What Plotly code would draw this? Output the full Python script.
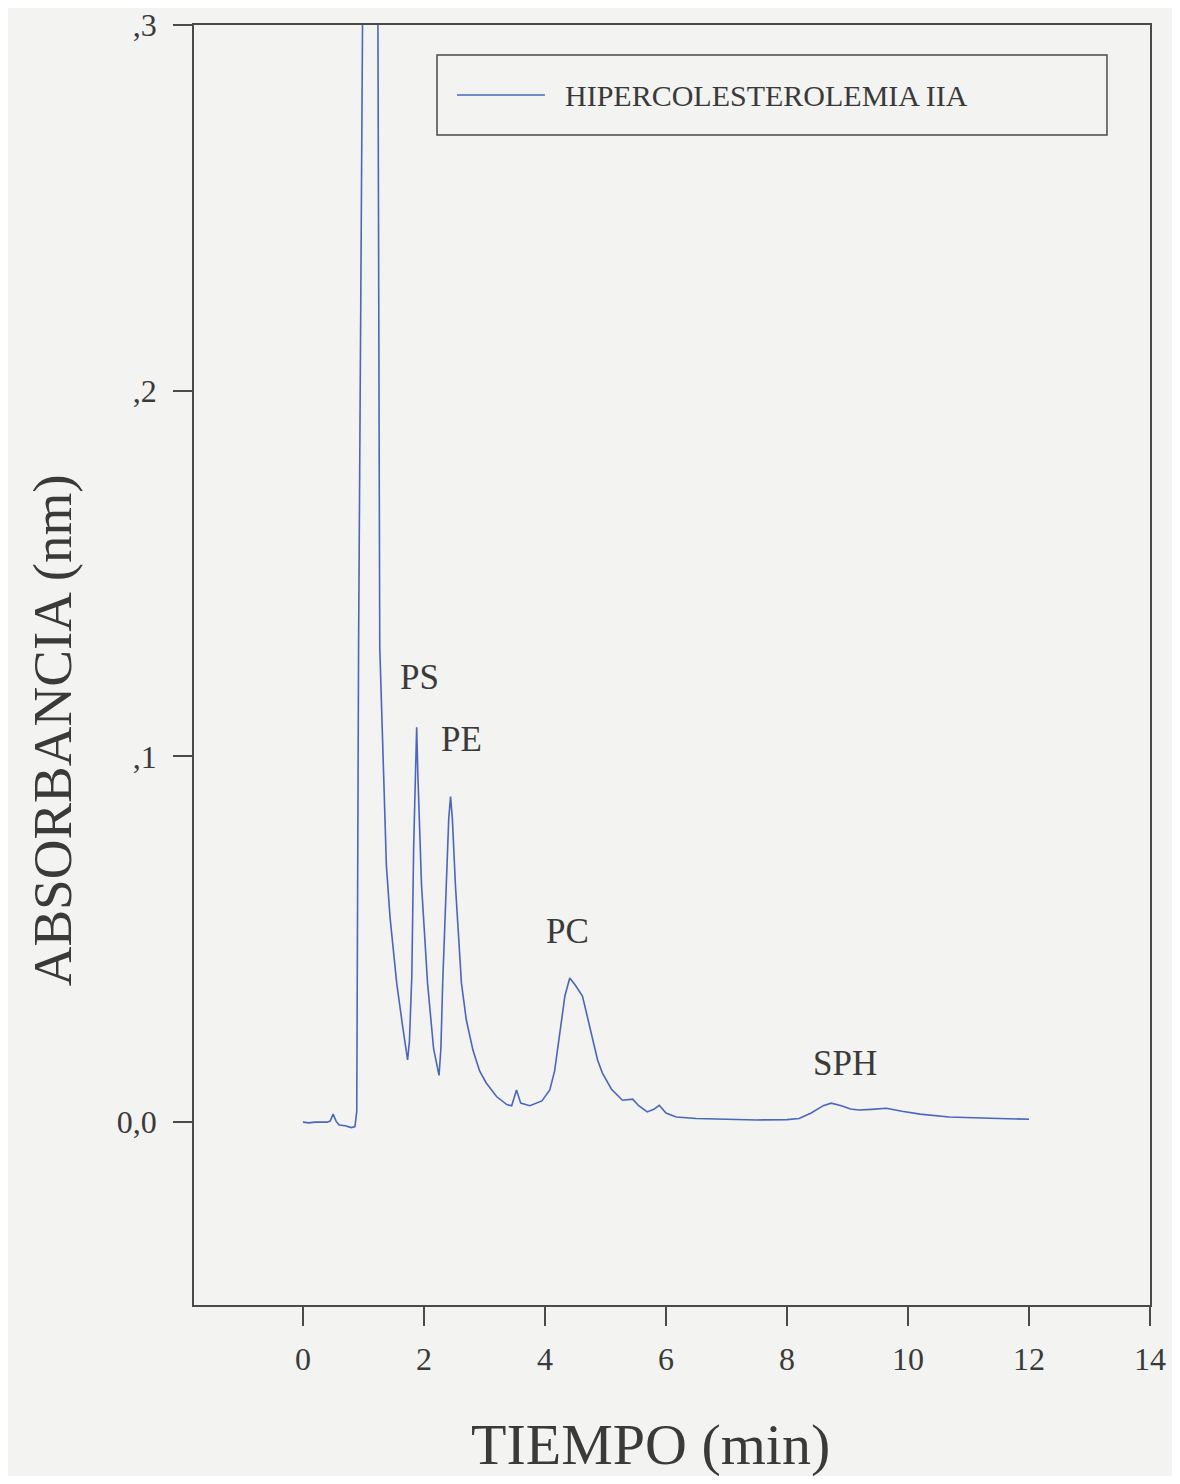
import plotly.graph_objects as go

# ---- data ----
series_name = "HIPERCOLESTEROLEMIA IIA"
tiempo = [0.00, 0.10, 0.20, 0.30, 0.40, 0.45, 0.50, 0.55, 0.60, 0.70, 0.80, 0.86,
          0.89, 0.92, 0.97, 1.03, 1.10, 1.18, 1.24, 1.27, 1.32, 1.38, 1.44, 1.55,
          1.65, 1.73, 1.76, 1.80, 1.83, 1.86, 1.88, 1.90, 1.92, 1.96, 2.06, 2.16,
          2.25, 2.28, 2.31, 2.37, 2.41, 2.44, 2.47, 2.52, 2.62, 2.70, 2.81, 2.92,
          3.03, 3.20, 3.37, 3.45, 3.53, 3.60, 3.75, 3.95, 4.08, 4.16, 4.24, 4.33,
          4.41, 4.50, 4.62, 4.70, 4.79, 4.87, 4.95, 5.10, 5.28, 5.45, 5.55, 5.69,
          5.80, 5.89, 6.00, 6.17, 6.50, 7.00, 7.50, 8.00, 8.20, 8.40, 8.60, 8.73,
          8.90, 9.05, 9.19, 9.40, 9.64, 9.90, 10.20, 10.68, 11.00, 11.50, 12.00]
absorbancia = [0.0000, -0.0002, 0.0000, -0.0001, 0.0000, 0.0003, 0.0022, 0.0002, -0.0008, -0.0010, -0.0015, -0.0012,
               0.0030, 0.1300, 0.3000, 0.5000, 0.6000, 0.5000, 0.3000, 0.1300, 0.1000, 0.0700, 0.0560, 0.0380,
               0.0260, 0.0170, 0.0220, 0.0400, 0.0750, 0.1000, 0.1080, 0.0950, 0.0850, 0.0650, 0.0380, 0.0200,
               0.0128, 0.0200, 0.0380, 0.0650, 0.0830, 0.0890, 0.0830, 0.0650, 0.0380, 0.0280, 0.0197, 0.0140,
               0.0107, 0.0070, 0.0048, 0.0045, 0.0088, 0.0052, 0.0045, 0.0058, 0.0088, 0.0140, 0.0230, 0.0345,
               0.0394, 0.0375, 0.0345, 0.0290, 0.0220, 0.0170, 0.0134, 0.0090, 0.0060, 0.0063, 0.0045, 0.0028,
               0.0035, 0.0046, 0.0025, 0.0014, 0.0010, 0.0008, 0.0006, 0.0007, 0.0010, 0.0025, 0.0045, 0.0052,
               0.0045, 0.0036, 0.0033, 0.0035, 0.0038, 0.0030, 0.0022, 0.0014, 0.0012, 0.0010, 0.0008]

peak_labels = ["PS", "PE", "PC", "SPH"]
peak_x = [1.93, 2.62, 4.37, 8.96]
peak_y = [0.1217, 0.1045, 0.052, 0.0161]

x_ticks = [0, 2, 4, 6, 8, 10, 12, 14]
y_ticks = [0.0, 0.1, 0.2, 0.3]
y_ticktext = ["0,0", ",1", ",2", ",3"]

FONT = "Liberation Serif"
TXT = "#3a3a3a"
AX = "#4a4a4a"
LINE = "#4a66bd"
BG = "#f3f3f1"

fig = go.Figure()
fig.add_trace(go.Scatter(x=tiempo, y=absorbancia, mode="lines", name=series_name,
                         line=dict(color=LINE, width=1.6), showlegend=False))

for lab, px, py in zip(peak_labels, peak_x, peak_y):
    fig.add_annotation(x=px, y=py, text=lab, showarrow=False, xref="x", yref="y",
                       font=dict(family=FONT, size=35, color=TXT))

# axis titles
fig.add_annotation(text="TIEMPO (min)", xref="paper", yref="paper", x=0.477, y=-0.109,
                   xanchor="center", yanchor="middle",
                   showarrow=False, font=dict(family=FONT, size=58, color=TXT))
fig.add_annotation(text="ABSORBANCIA (nm)", xref="paper", yref="paper", x=-0.1485, y=0.449,
                   xanchor="center", yanchor="middle",
                   textangle=-90, showarrow=False, font=dict(family=FONT, size=55, color=TXT))

# legend box (drawn manually to match the wide framed legend)
fig.add_shape(type="rect", xref="paper", yref="paper", x0=0.2542, x1=0.955, y0=0.914, y1=0.9766,
              line=dict(color=AX, width=1.5))
fig.add_shape(type="line", xref="paper", yref="paper", x0=0.2751, x1=0.3671, y0=0.9453, y1=0.9453,
              line=dict(color=LINE, width=1.6))
fig.add_annotation(text=series_name, xref="paper", yref="paper", x=0.386, y=0.9453,
                   xanchor="left", yanchor="middle", showarrow=False,
                   font=dict(family=FONT, size=30, color=TXT))

fig.update_xaxes(range=[-1.8, 14], tickvals=x_ticks, ticktext=[str(v) for v in x_ticks],
                 ticks="outside", ticklen=19, tickwidth=1.5, tickcolor=AX,
                 showline=True, linecolor=AX, linewidth=1.5, mirror=True,
                 showgrid=False, zeroline=False, ticklabelstandoff=6,
                 ticklabeloverflow="allow", automargin=False,
                 tickfont=dict(family=FONT, size=32, color=TXT))
fig.update_yaxes(range=[-0.05, 0.3], tickvals=y_ticks, ticktext=y_ticktext,
                 ticks="outside", ticklen=19, tickwidth=1.5, tickcolor=AX,
                 showline=True, linecolor=AX, linewidth=1.5, mirror=True,
                 showgrid=False, zeroline=False, ticklabelstandoff=10,
                 ticklabeloverflow="allow", automargin=False,
                 tickfont=dict(family=FONT, size=32, color=TXT))

fig.update_layout(width=1164, height=1468, margin=dict(l=186, r=22, t=17, b=171),
                  paper_bgcolor=BG, plot_bgcolor=BG, showlegend=False)

fig.write_html("out.html")
